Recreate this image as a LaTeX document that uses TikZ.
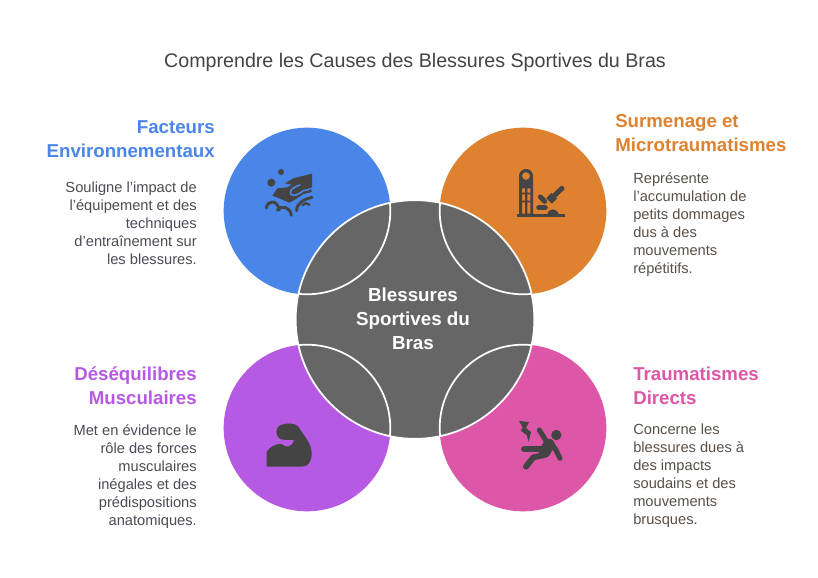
\documentclass[tikz,border=0pt]{standalone}
\usepackage{fontspec}
\setmainfont{Liberation Sans}
\definecolor{cblue}{HTML}{4A86E8}
\definecolor{corange}{HTML}{DF8230}
\definecolor{cpurple}{HTML}{B75AE3}
\definecolor{cpink}{HTML}{DD57A8}
\definecolor{cgray}{HTML}{666666}
\definecolor{cicon}{HTML}{444444}
\definecolor{cbody}{HTML}{4F4A55}
\definecolor{cbodyb}{HTML}{5A5048}
\tikzset{
 x=0.75pt,y=-0.75pt,
 petal/.style={circle,minimum size=125pt,inner sep=0pt,outer sep=0pt},
 hub/.style={circle,minimum size=179pt,inner sep=0pt,outer sep=0pt,fill=cgray,draw=white,line width=1.3pt},
 headr/.style={font=\bfseries\fontsize{14}{18}\selectfont,align=right,anchor=north east,inner sep=0pt},
 headl/.style={font=\bfseries\fontsize{14}{18}\selectfont,align=left,anchor=north west,inner sep=0pt},
 bodyr/.style={font=\fontsize{11}{13.5}\selectfont,align=right,anchor=north east,inner sep=0pt,text=cbody},
 bodyl/.style={font=\fontsize{11}{13.5}\selectfont,align=left,anchor=north west,inner sep=0pt,text=cbodyb},
 icon/.style={fill=cicon,draw=none},
 iconl/.style={draw=cicon,line cap=round,fill=none},
}
\begin{document}
\begin{tikzpicture}
\useasboundingbox[fill=white] (0,0) rectangle (818,578);
\node[font=\fontsize{14.75}{18}\selectfont,text=cicon,inner sep=0pt] (title) at (415,62) {Comprendre les Causes des Blessures Sportives du Bras};
\node[petal,fill=cblue] (pa) at (307,211) {};
\node[petal,fill=corange] (pb) at (523,211) {};
\node[petal,fill=cpurple] (pc) at (307,428) {};
\node[petal,fill=cpink] (pd) at (523,428) {};
\node[hub] (hub) at (415,319.5) {};
\begin{scope}
\clip (415,319.5) circle [radius=119.5];
\draw[white,line width=1.3pt] (307,211) circle [radius=83.3];
\draw[white,line width=1.3pt] (523,211) circle [radius=83.3];
\draw[white,line width=1.3pt] (307,428) circle [radius=83.3];
\draw[white,line width=1.3pt] (523,428) circle [radius=83.3];
\end{scope}
\node[font=\bfseries\fontsize{14.1}{17.8}\selectfont,text=white,align=center,inner sep=0pt] (hubt) at (413,319) {Blessures\\Sportives du\\Bras};
% text
\node[headr,text=cblue] (ha) at (215,120.5) {Facteurs\\Environnementaux};
\node[bodyr] (ba) at (197,182) {Souligne l'impact de\\l'équipement et des\\techniques\\d'entraînement sur\\les blessures.};
\node[headl,text=corange] (hb) at (615,114.5) {Surmenage et\\Microtraumatismes};
\node[bodyl] (bb) at (633,172) {Représente\\l'accumulation de\\petits dommages\\dus à des\\mouvements\\répétitifs.};
\node[headr,text=cpurple] (hc) at (197,366.5) {Déséquilibres\\Musculaires};
\node[bodyr] (bc) at (197,424) {Met en évidence le\\rôle des forces\\musculaires\\inégales et des\\prédispositions\\anatomiques.};
\node[headl,text=cpink] (hd) at (633,366.5) {Traumatismes\\Directs};
\node[bodyl] (bd) at (633,424) {Concerne les\\blessures dues à\\des impacts\\soudains et des\\mouvements\\brusques.};
% blue icon
\begin{scope}[shift={(250,150)},x=0.25pt,y=-0.25pt]
\fill[icon] (64,98) circle [radius=12];
\fill[icon] (93,66) circle [radius=9];
\fill[icon] (104,100) -- (130,85) -- (186,71) -- (186,112) -- (168,118) -- (182,117) -- (186,126) -- (160,132) -- (140,146) -- (118,158) -- (95,148) -- (67,137) -- (82,115) -- (112,112) -- (125,104) -- cycle;
\draw[cblue,line width=1.2pt,line cap=round] (150,105) .. controls (128,112) and (118,122) .. (122,132) .. controls (130,143) and (150,130) .. (160,122) -- (178,118);
\draw[iconl,line width=2.2pt] (49,174) .. controls (52,150) and (82,148) .. (88,180);
\draw[iconl,line width=2.2pt] (82,180) .. controls (95,165) and (120,170) .. (124,196);
\draw[iconl,line width=2.2pt] (140,182) .. controls (140,160) and (160,148) .. (186,142);
\draw[iconl,line width=1.8pt] (158,166) .. controls (165,158) and (172,158) .. (178,164);
\end{scope}
% orange icon
\begin{scope}[shift={(500,155)},x=0.25pt,y=-0.25pt,even odd rule]
\fill[icon] (57,180) -- (57,63) arc[start angle=180,end angle=360,radius=21] -- (99,180) -- cycle
  (78,63) circle [radius=12]
  (66,100) rectangle (75,176)
  (82,100) rectangle (91,176);
\fill[icon] (66,113) rectangle (91,118) (66,137) rectangle (91,142);
\fill[icon] (52,176) rectangle (195,187);
\draw[cicon,line width=3.7pt,line cap=round] (186,100) -- (165,120);
\fill[icon,rotate around={-45:(155,130)}] (143,119) rectangle (167,141);
\draw[cicon,line width=3.7pt,line cap=round] (121,126) -- (134,139);
\draw[cicon,line width=3.7pt,line cap=round] (116,158) -- (136,158);
\fill[icon] (142,178) .. controls (145,158) and (172,158) .. (176,178) -- cycle;
\end{scope}
% purple icon
\begin{scope}[shift={(250,410)},x=0.25pt,y=-0.25pt]
\fill[icon] (50,170) -- (50,125) .. controls (60,110) and (80,100) .. (95,102) .. controls (110,115) and (125,112) .. (132,90) .. controls (115,90) and (100,90) .. (90,87) .. controls (75,80) and (75,50) .. (92,45) .. controls (110,38) and (135,38) .. (145,50) .. controls (160,75) and (185,100) .. (185,130) .. controls (185,155) and (175,170) .. (155,170) -- cycle;
\end{scope}
% pink icon
\begin{scope}[shift={(500,410)},x=0.25pt,y=-0.25pt]
\fill[icon] (169,75) circle [radius=15.5];
\fill[icon] (57,33) -- (87,36) -- (78,54) -- (93,66) -- (86,95) -- (80,75) -- (62,62) -- (68,52) -- cycle;
\draw[cicon,line width=3.8pt,line cap=round,line join=round] (118,60) -- (138,92);
\draw[cicon,line width=3.8pt,line cap=round,line join=round] (150,95) -- (165,115) -- (180,145);
\draw[cicon,line width=8.7pt,line cap=round] (147,104) -- (134,126);
\draw[cicon,line width=4.4pt,line cap=round,line join=round] (72,118) -- (125,118);
\draw[cicon,line width=4.4pt,line cap=round,line join=round] (130,136) -- (100,142) -- (78,170);
\end{scope}
\end{tikzpicture}
\end{document}
